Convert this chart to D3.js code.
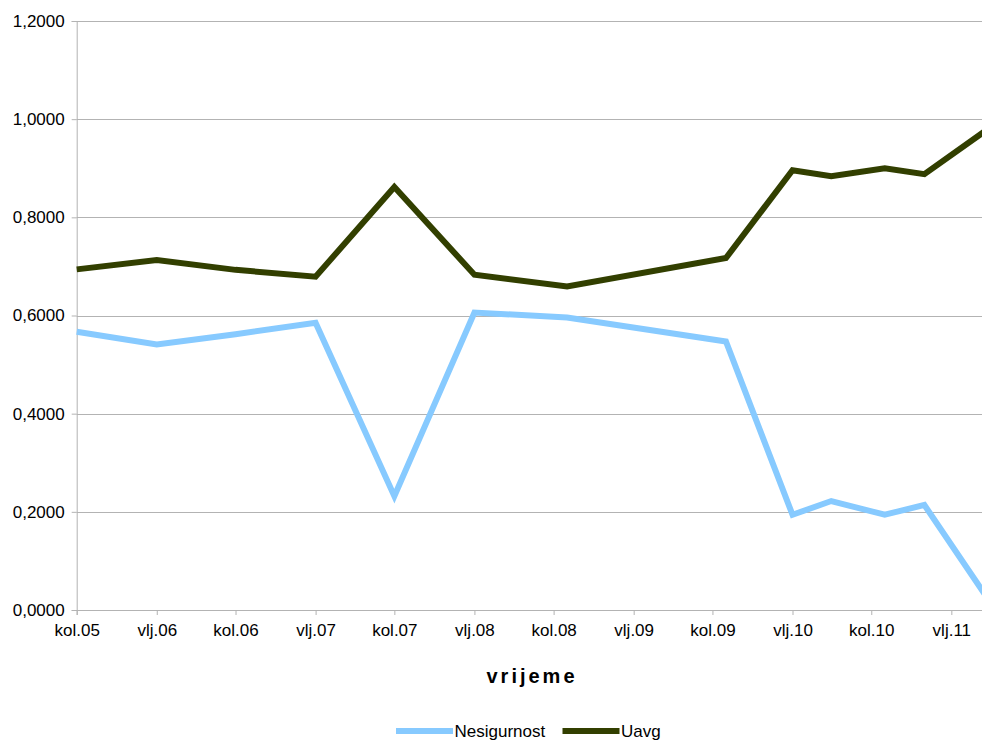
<!DOCTYPE html>
<html>
<head>
<meta charset="utf-8">
<script src="https://cdn.jsdelivr.net/npm/d3@7"></script>
<style>
  body { margin: 0; background: #fff; }
  svg { display: block; font-family: "Liberation Sans", Arial, sans-serif; }
</style>
</head>
<body>
<svg id="chart"></svg>
<script>
// dates of the observations (year-month)
const dates = ["2005-08", "2006-02", "2006-08", "2007-02", "2007-08", "2008-02",
               "2008-09", "2009-09", "2010-02", "2010-05", "2010-09", "2010-12", "2011-05"];
const nesigurnost = [0.567, 0.541, 0.562, 0.585, 0.232, 0.606, 0.596, 0.547, 0.194, 0.222, 0.194, 0.214, 0.016];
const uavg = [0.694, 0.713, 0.693, 0.679, 0.862, 0.683, 0.659, 0.717, 0.896, 0.884, 0.900, 0.888, 0.983];

const tickDates = ["2005-08", "2006-02", "2006-08", "2007-02", "2007-08", "2008-02",
                   "2008-08", "2009-02", "2009-08", "2010-02", "2010-08", "2011-02"];
const tickLabels = ["kol.05", "vlj.06", "kol.06", "vlj.07", "kol.07", "vlj.08",
                    "kol.08", "vlj.09", "kol.09", "vlj.10", "kol.10", "vlj.11"];
const yTicks = [0, 0.2, 0.4, 0.6, 0.8, 1.0, 1.2];

const series = [
  { name: "Nesigurnost", values: nesigurnost, color: "#87caff" },
  { name: "Uavg", values: uavg, color: "#323f00" }
];

const width = 982, height = 742;
const parse = d3.timeParse("%Y-%m");

const svg = d3.select("#chart")
  .attr("width", width)
  .attr("height", height);

// time axis: Aug 2005 at the left edge, one tick every six months
const x = d3.scaleTime()
  .domain([parse("2005-08"), parse("2011-08")])
  .range([76.7, 76.7 + 79.45 * 12]);

const y = d3.scaleLinear()
  .domain([0, 1.2])
  .range([610, 21]);

const fmt = d => d.toFixed(4).replace(".", ",");

// horizontal grid
svg.append("g")
  .selectAll("line")
  .data(yTicks.slice(1))
  .join("line")
  .attr("x1", 76.7)
  .attr("x2", width)
  .attr("y1", d => Math.round(y(d)) + 0.5)
  .attr("y2", d => Math.round(y(d)) + 0.5)
  .attr("stroke", "#b3b3b3");

// y axis
const yAxis = svg.append("g")
  .attr("transform", "translate(76.7,0)")
  .call(d3.axisLeft(y).tickValues(yTicks).tickFormat(fmt).tickSize(5).tickPadding(7));
yAxis.select(".domain").attr("stroke", "#b3b3b3");
yAxis.selectAll(".tick line").attr("stroke", "#b3b3b3");
yAxis.selectAll("text").style("font-size", "17px").attr("fill", "#000");

// x axis
const xAxis = svg.append("g")
  .attr("transform", "translate(0,610)")
  .call(d3.axisBottom(x)
    .tickValues(tickDates.map(parse))
    .tickFormat((d, i) => tickLabels[i])
    .tickSize(5)
    .tickPadding(9));
xAxis.select(".domain").attr("stroke", "#b3b3b3");
xAxis.selectAll(".tick line").attr("stroke", "#b3b3b3");
xAxis.selectAll("text").style("font-size", "17px").attr("fill", "#000");

// lines
const line = d3.line()
  .x((d, i) => x(parse(dates[i])))
  .y(d => y(d));

svg.append("g")
  .selectAll("path")
  .data(series)
  .join("path")
  .attr("d", d => line(d.values))
  .attr("fill", "none")
  .attr("stroke", d => d.color)
  .attr("stroke-width", 6)
  .attr("stroke-linejoin", "miter");

// axis title
svg.append("text")
  .attr("x", 532)
  .attr("y", 683)
  .attr("text-anchor", "middle")
  .style("font-size", "20px")
  .style("font-weight", "bold")
  .style("letter-spacing", "3px")
  .text("vrijeme");

// legend
const legendX = [396, 562.5];
const legend = svg.append("g")
  .selectAll("g")
  .data(series)
  .join("g")
  .attr("transform", (d, i) => `translate(${legendX[i]},731)`);

legend.append("rect")
  .attr("x", 0)
  .attr("y", -3)
  .attr("width", 57)
  .attr("height", 6)
  .attr("fill", d => d.color);

legend.append("text")
  .attr("x", 58.5)
  .attr("y", 6)
  .style("font-size", "17px")
  .text(d => d.name);
</script>
</body>
</html>
